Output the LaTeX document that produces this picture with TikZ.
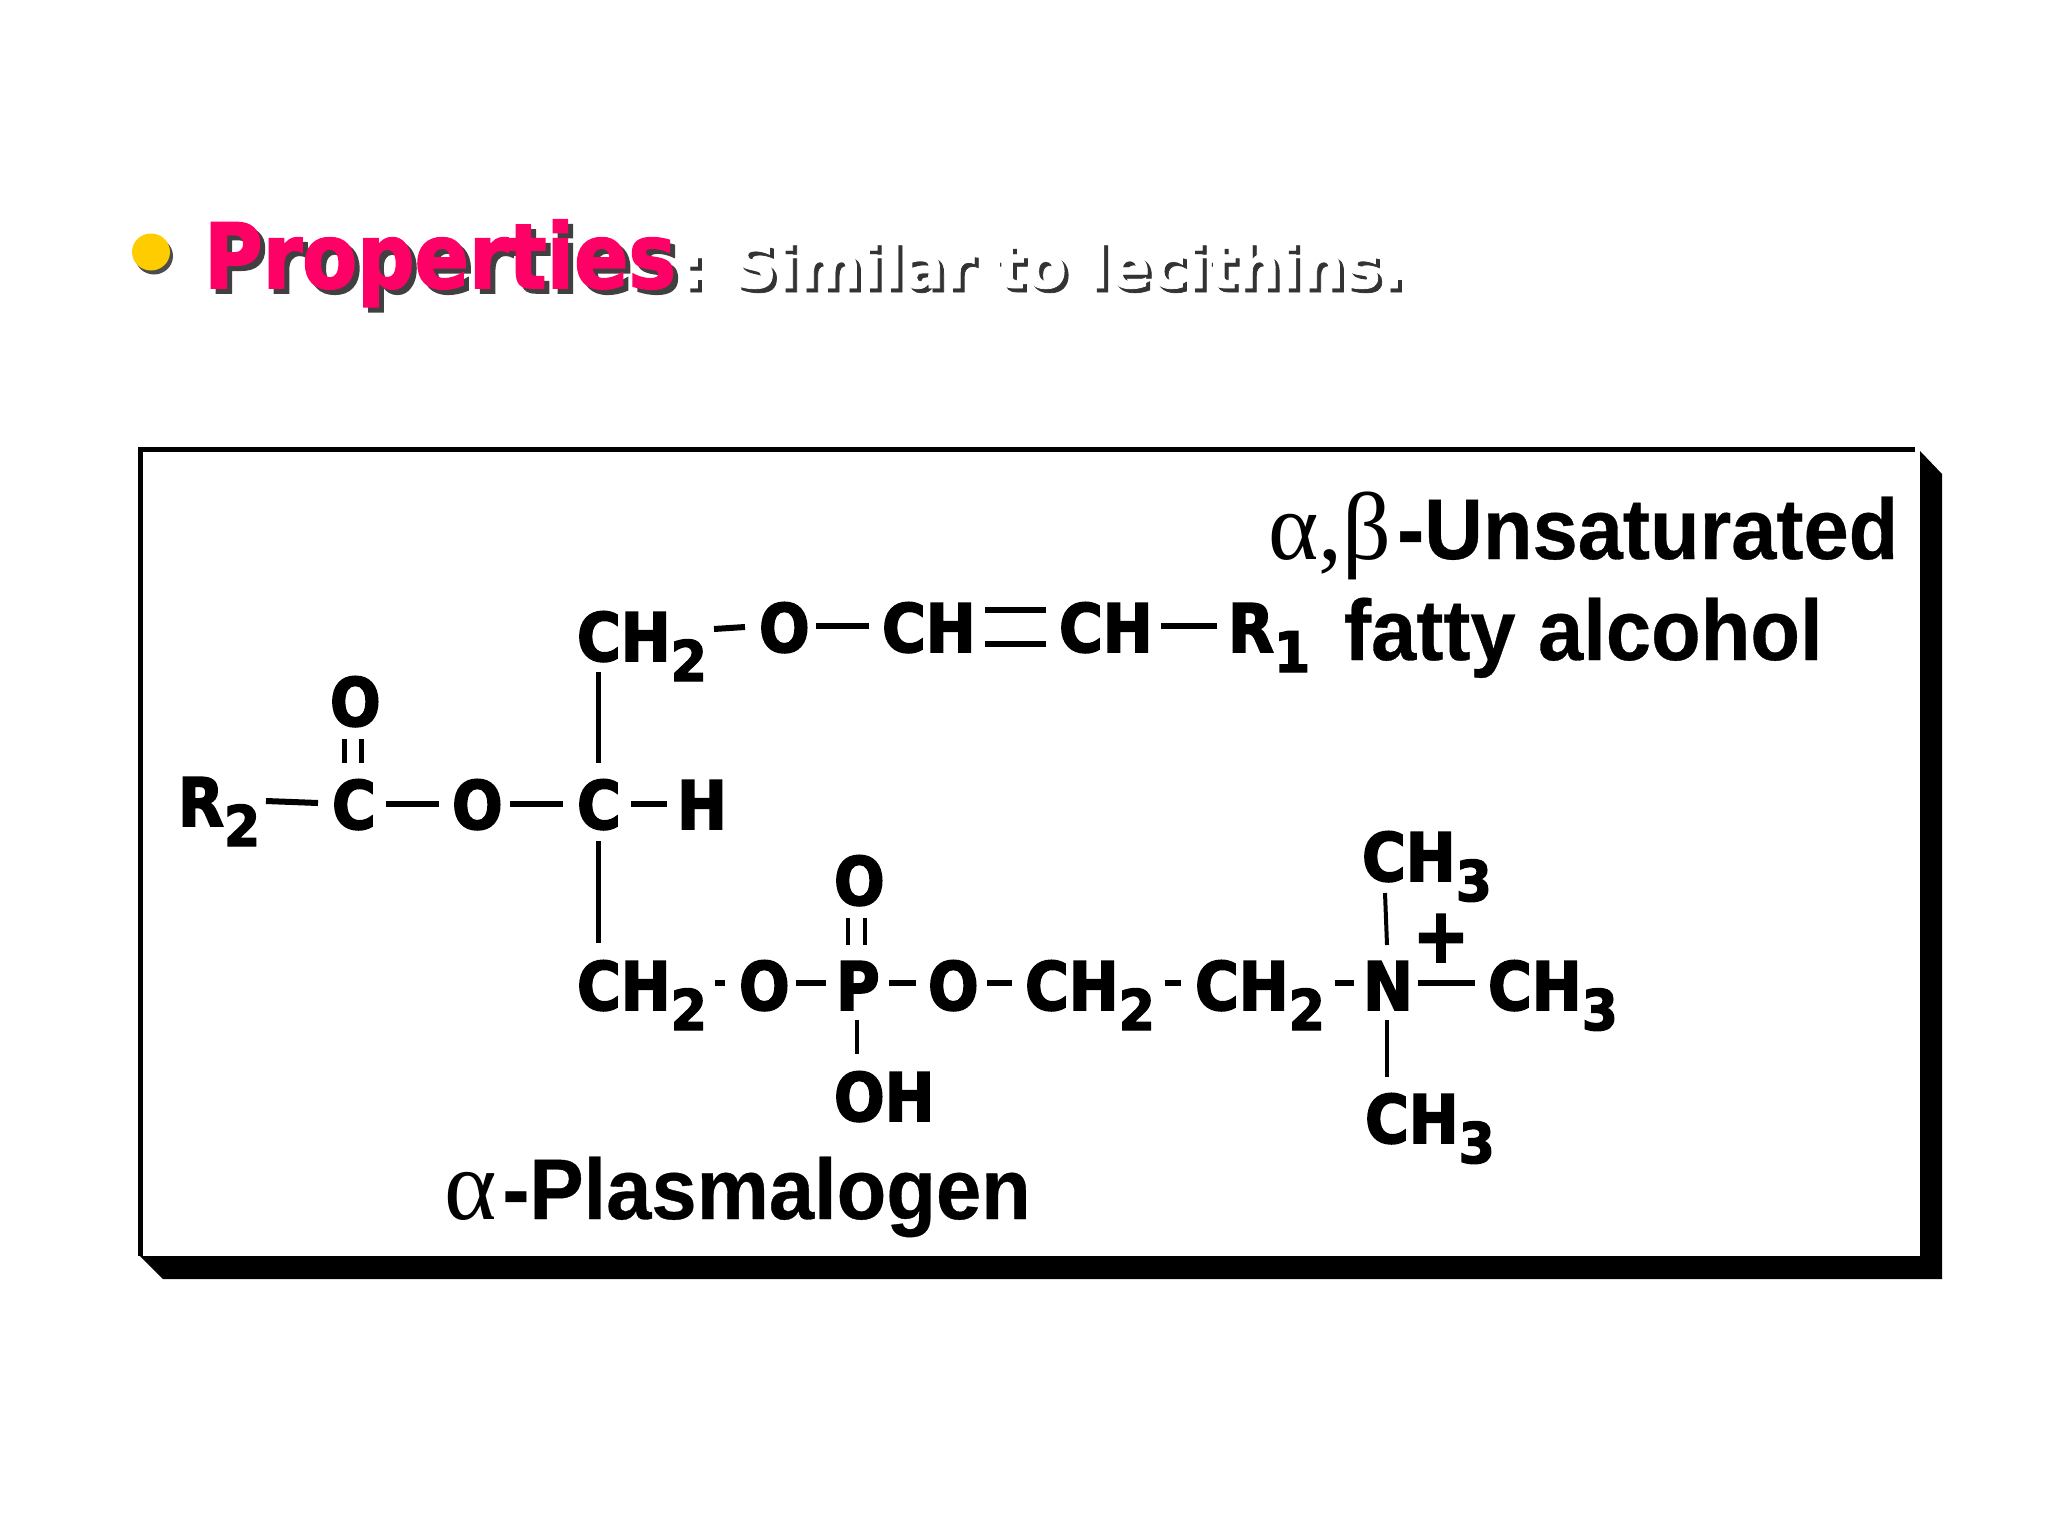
\documentclass[tikz,border=0pt]{standalone}
\usepackage{fontspec}
\newfontfamily\atomf[FakeStretch=0.89,FakeBold=2.4]{DejaVu Sans Bold}
\newfontfamily\idxf[FakeStretch=0.93,FakeBold=2.4]{DejaVu Sans Bold}
\newfontfamily\headf[FakeStretch=0.89,FakeBold=1.8]{DejaVu Sans Bold}
\newfontfamily\subheadf[FakeStretch=1.0,FakeBold=1.2]{DejaVu Sans Bold}
\newfontfamily\bigf[FakeStretch=0.945,FakeBold=0.4]{Liberation Sans Bold}
\newfontfamily\greekf{Liberation Serif}
\newcommand\atomsize{\atomf\fontsize{33.5}{40}\selectfont}
\newcommand\lowidx[1]{\raisebox{-10pt}{\idxf\fontsize{28}{30}\selectfont #1}}
\newcommand\bond[5][]{\draw[bondline,#1] ([shift={(#3)}]#2.base west) -- ([shift={(#5)}]#4.base west);}
\tikzset{
  atom/.style={anchor=base west,inner sep=0pt,outer sep=0pt,font=\atomsize,text=black},
  biglabel/.style={anchor=base west,inner sep=0pt,outer sep=0pt,font=\bigf\fontsize{43}{50}\selectfont,text=black},
  headtext/.style={anchor=base west,inner sep=0pt,outer sep=0pt},
  bondline/.style={line width=3pt,black},
  thinbond/.style={line width=2pt},
  vbond/.style={line width=2.5pt},
}
\definecolor{headpink}{RGB}{255,0,102}
\definecolor{bulletgold}{RGB}{255,204,0}
\begin{document}
\begin{tikzpicture}[x=0.5pt,y=-0.5pt]
\useasboundingbox (0,0) rectangle (2048,1536);
% heading
\fill[black!70] (154,256) ellipse [x radius=19,y radius=18.5];
\fill[bulletgold] (151,252) ellipse [x radius=19,y radius=18.5];
\node[headtext,text=black!75,font=\headf\fontsize{45}{50}\selectfont] (pshadow) at (209,293) {Properties};
\node[headtext,text=headpink,font=\headf\fontsize{45}{50}\selectfont] (ptext) at (204,288) {Properties};
\node[headtext,text=black!80,font=\subheadf\fontsize{30.5}{34}\selectfont] (cshadow) at (684,292) {:};
\node[headtext,text=white,font=\subheadf\fontsize{30.5}{34}\selectfont] (ctext) at (680,288) {:};
\node[headtext,text=black!80,font=\subheadf\fontsize{30.5}{34}\selectfont] (sshadow) at (737,292) {Similar to lecithins.};
\node[headtext,text=white,font=\subheadf\fontsize{30.5}{34}\selectfont] (stext) at (733,288) {Similar to lecithins.};
% frame
\fill[black] (1920,451) -- (1942,474) -- (1942,1279) -- (163,1279) -- (140,1256) -- (1920,1256) -- cycle;
\draw[line width=2.5pt,black] (140,1256) -- (140,449) -- (1915,449);
% labels
\node[biglabel] (lab1) at (1268,559) {{\greekf\fontsize{48}{50}\selectfont α,β}\hspace{3pt}-Unsaturated};
\node[biglabel] (lab2) at (1344,660) {fatty alcohol};
\node[biglabel] (lab3) at (444,1219) {{\greekf\fontsize{50}{50}\selectfont α}\hspace{3pt}-Plasmalogen};
% atoms
\node[atom] (ch2a) at (577,661) {CH\lowidx{2}};
\node[atom] (oa) at (759,652) {O};
\node[atom] (cha) at (882,652) {CH};
\node[atom] (chb) at (1059,652) {CH};
\node[atom] (r1) at (1228,652) {R\lowidx{1}};
\node[atom] (o1) at (330,726) {O};
\node[atom] (r2) at (178,826) {R\lowidx{2}};
\node[atom] (c1) at (332,829) {C};
\node[atom] (o2) at (452,829) {O};
\node[atom] (c2) at (577,829) {C};
\node[atom] (h) at (677,829) {H};
\node[atom] (ch2b) at (577,1010) {CH\lowidx{2}};
\node[atom] (o3) at (739,1010) {O};
\node[atom] (p) at (836,1010) {P};
\node[atom] (o4) at (928,1010) {O};
\node[atom] (ch2c) at (1025,1010) {CH\lowidx{2}};
\node[atom] (ch2d) at (1195,1010) {CH\lowidx{2}};
\node[atom] (n) at (1363,1010) {N};
\node[atom] (ch3r) at (1488,1010) {CH\lowidx{3}};
\node[atom] (o5) at (834,905) {O};
\node[atom] (oh) at (834,1121) {OH};
\node[atom] (ch3t) at (1362,881) {CH\lowidx{3}};
\node[atom] (ch3b) at (1365,1143) {CH\lowidx{3}};
\node[inner sep=0pt,font=\atomf\fontsize{38}{40}\selectfont] (plus) at (1441,938) {+};
% bonds
\bond{ch2a}{137,-32}{oa}{-14,-25}
\bond{oa}{57,-26}{cha}{-13,-26}
\bond{cha}{103,-42}{chb}{-13,-42}
\bond{cha}{103,-8}{chb}{-13,-8}
\bond{chb}{102,-26}{r1}{-11,-26}
\bond{r2}{88,-25}{c1}{-14,-26}
\bond{c1}{54,-25}{o2}{-13,-25}
\bond{o2}{58,-25}{c2}{-14,-25}
\bond{c2}{54,-25}{h}{-10,-25}
\bond[vbond]{o1}{14,13}{c1}{12,-66}
\bond[vbond]{o1}{31,13}{c1}{29,-66}
\bond[vbond]{ch2a}{21.4,11}{c2}{21.4,-66}
\bond[vbond]{c2}{21.4,12}{ch2b}{21.4,-67}
\bond{ch2b}{138,-27}{o3}{-14,-27}
\bond{o3}{57,-27}{p}{-10,-27}
\bond{p}{53,-27}{o4}{-12,-27}
\bond{o4}{59,-27}{ch2c}{-13,-27}
\bond{ch2c}{139.5,-27}{ch2d}{-14,-27}
\bond{ch2d}{139.5,-27}{n}{-9.4,-27}
\bond{n}{55,-27}{ch3r}{-13.4,-27}
\bond[thinbond]{o5}{14,13}{p}{12,-65}
\bond[thinbond]{o5}{31,13}{p}{29,-65}
\bond[thinbond]{p}{21,10}{oh}{23,-67}
\bond[thinbond]{ch3t}{23,12}{n}{24,-65}
\bond[thinbond]{n}{24,10}{ch3b}{22,-66}
\end{tikzpicture}
\end{document}
